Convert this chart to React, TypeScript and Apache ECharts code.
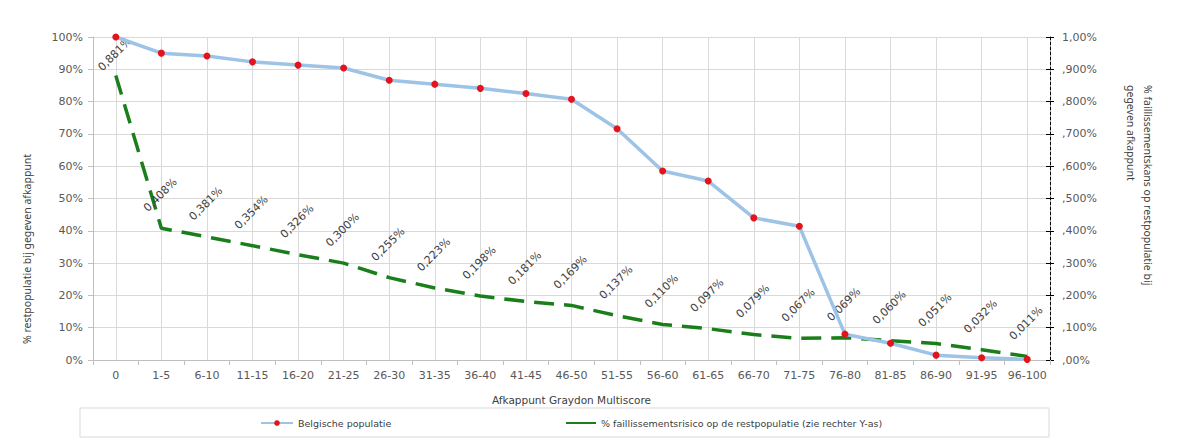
import React, { useEffect, useRef } from "react";
import * as echarts from "echarts";

const categories = ["0", "1-5", "6-10", "11-15", "16-20", "21-25", "26-30", "31-35", "36-40", "41-45", "46-50", "51-55", "56-60", "61-65", "66-70", "71-75", "76-80", "81-85", "86-90", "91-95", "96-100"];
const populatie = [100, 95.0, 94.1, 92.3, 91.3, 90.4, 86.6, 85.4, 84.1, 82.5, 80.7, 71.6, 58.5, 55.4, 44.0, 41.4, 8.0, 5.2, 1.5, 0.7, 0.2];
const risico = [0.881, 0.408, 0.381, 0.354, 0.326, 0.300, 0.255, 0.223, 0.198, 0.181, 0.169, 0.137, 0.110, 0.097, 0.079, 0.067, 0.069, 0.060, 0.051, 0.032, 0.011];
const leftTicks = { min: 0, max: 100, interval: 10 };
const rightTicks = { min: 0, max: 1, interval: 0.1 };

const S1 = "Belgische populatie";
const S2 = "% faillissementsrisico op de restpopulatie (zie rechter Y-as)";
const FONT = "DejaVu Sans, Verdana, sans-serif";
const TITLE_FONT = "Noto Sans, Open Sans, sans-serif";

function rightFmt(v: number) {
  if (Math.abs(v - 1) < 1e-9) return "1,00%";
  if (Math.abs(v) < 1e-9) return ",00%";
  return "," + String(Math.round(v * 1000)).padStart(3, "0") + "%";
}

export default function App() {
  const ref = useRef<HTMLDivElement>(null);
  useEffect(() => {
    if (!ref.current) return;
    const chart = echarts.init(ref.current, null, { renderer: "svg" });
    chart.setOption({
      animation: false,
      backgroundColor: "#ffffff",
      textStyle: { fontFamily: FONT },
      grid: { left: 93, right: 135, top: 37, bottom: 86, containLabel: false },
      legend: [
        {
          data: [S1],
          left: 255,
          top: 413,
          itemWidth: 32,
          itemHeight: 7,
          itemGap: 4,
          textStyle: { fontSize: 9.5, color: "#404040", fontFamily: FONT },
        },
        {
          data: [S2],
          left: 560,
          top: 413,
          itemWidth: 30,
          itemHeight: 7,
          textStyle: { fontSize: 9.5, color: "#404040", fontFamily: FONT },
          lineStyle: { type: "solid" },
        },
      ],
      graphic: [
        {
          type: "rect",
          shape: { x: 80, y: 408, width: 969, height: 29 },
          style: { fill: "none", stroke: "#d9d9d9", lineWidth: 1 },
          silent: true,
        },
        {
          type: "text",
          x: 27,
          y: 344,
          rotation: Math.PI / 2,
          style: {
            text: "% restpopulatie bij gegeven afkappunt",
            fontSize: 10.5,
            fontFamily: TITLE_FONT,
            fill: "#404040",
            align: "left",
            verticalAlign: "middle",
          },
        },
        {
          type: "text",
          x: 1156,
          y: 85,
          rotation: -Math.PI / 2,
          style: {
            text: "% faillissementskans op restpopulatie bij\ngegeven afkappunt",
            fontSize: 10.5,
            lineHeight: 17,
            fontFamily: TITLE_FONT,
            fill: "#404040",
            align: "left",
            verticalAlign: "top",
          },
        },
      ],
      xAxis: {
        type: "category",
        data: categories,
        boundaryGap: true,
        name: "Afkappunt Graydon Multiscore",
        nameLocation: "middle",
        nameGap: 34,
        nameTextStyle: { fontSize: 10.5, color: "#404040", fontFamily: FONT },
        axisLine: { lineStyle: { color: "#bfbfbf", width: 1 } },
        axisTick: { show: true, length: 5, lineStyle: { color: "#bfbfbf" } },
        axisLabel: { fontSize: 11, color: "#595959", margin: 10, interval: 0 },
        splitLine: { show: false },
      },
      yAxis: [
        {
          type: "value",
          position: "left",
          ...leftTicks,
          axisLine: { show: true, lineStyle: { color: "#bfbfbf" } },
          axisTick: { show: true, length: 5, lineStyle: { color: "#bfbfbf" } },
          axisLabel: { fontSize: 11, color: "#595959", margin: 10, formatter: (v: number) => v + "%" },
          splitLine: { show: true, lineStyle: { color: "#d9d9d9", width: 1 } },
        },
        {
          type: "value",
          position: "right",
          ...rightTicks,
          axisLine: { show: true, lineStyle: { color: "#000000", type: [3, 2], width: 1 } },
          axisTick: { show: true, inside: false, length: 4, lineStyle: { color: "#000000" } },
          axisLabel: { fontSize: 11, color: "#595959", margin: 12, formatter: rightFmt },
          splitLine: { show: false },
        },
        {
          type: "value",
          position: "right",
          ...rightTicks,
          axisLine: { show: false },
          axisTick: { show: true, inside: true, length: 4, lineStyle: { color: "#000000" } },
          axisLabel: { show: false },
          splitLine: { show: false },
        },
      ],
      series: [
        {
          name: "grid-v",
          type: "line",
          data: [],
          z: 0,
          silent: true,
          markLine: {
            z: 0,
            silent: true,
            symbol: "none",
            label: { show: false },
            lineStyle: { color: "#d9d9d9", width: 1, type: "solid" },
            data: categories.map((c) => ({ xAxis: c })),
          },
        },
        {
          name: S1,
          type: "line",
          yAxisIndex: 0,
          data: populatie,
          z: 3,
          symbol: "circle",
          symbolSize: 7,
          itemStyle: { color: "#e3141b", borderWidth: 0 },
          lineStyle: { color: "#9dc3e6", width: 3.5 },
        },
        {
          name: S2,
          type: "line",
          yAxisIndex: 1,
          data: risico.map((v, i) => (i === 0 ? { value: v, label: { distance: 14 } } : v)),
          z: 2,
          symbol: "circle",
          symbolSize: 1,
          showSymbol: true,
          itemStyle: { color: "rgba(0,0,0,0)", borderWidth: 0 },
          lineStyle: { color: "#1a7f1a", width: 3.5, type: [20, 10] },
          label: {
            show: true,
            position: "top",
            distance: 26,
            rotate: 45,
            offset: [4, 0],
            fontSize: 11,
            color: "#404040",
            fontFamily: FONT,
            formatter: (p: any) => (p.value as number).toFixed(3).replace(".", ",") + "%",
          },
        },
      ],
    });
    return () => chart.dispose();
  }, []);
  return <div ref={ref} style={{ width: 1185, height: 446, margin: -8 }} />;
}
